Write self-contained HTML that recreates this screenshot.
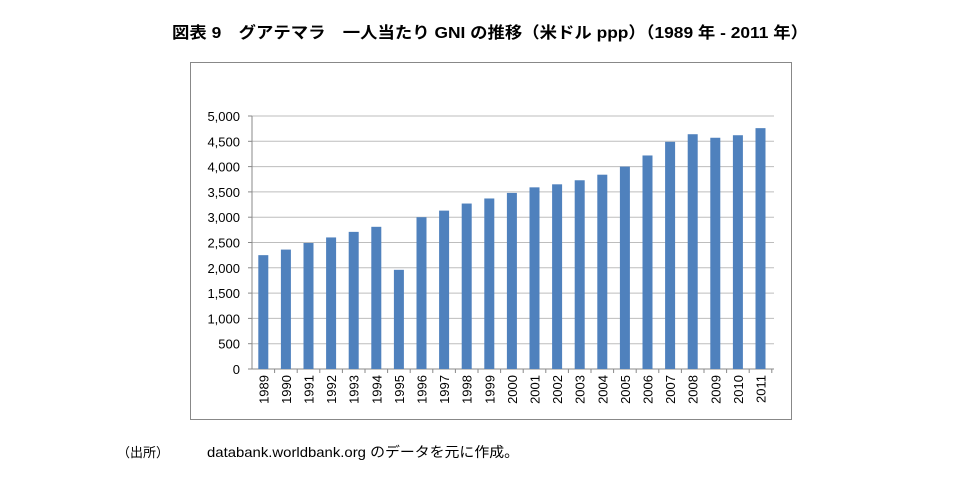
<!DOCTYPE html>
<html><head><meta charset="utf-8"><style>
body{margin:0;background:#fff;width:974px;height:478px;overflow:hidden;font-family:"Liberation Sans","Noto Sans CJK JP",sans-serif;}
</style></head><body>
<svg width="974" height="478" xmlns="http://www.w3.org/2000/svg" font-family="Liberation Sans, Noto Sans CJK JP, sans-serif">
<text x="172" y="38" textLength="636" lengthAdjust="spacingAndGlyphs" font-size="16" font-weight="bold" fill="#000">図表 9　グアテマラ　一人当たり GNI の推移（米ドル ppp）（1989 年 - 2011 年）</text>
<rect x="190.5" y="62.5" width="601" height="357" fill="#fff" stroke="#888" stroke-width="1"/>
<g id="g"></g>
<text x="117" y="457" font-size="13" fill="#000">（出所）</text>
<text x="207" y="457" textLength="312" lengthAdjust="spacingAndGlyphs" font-size="14" fill="#000">databank.worldbank.org のデータを元に作成。</text>
</svg>
<script>
var vals=[2250,2360,2490,2600,2710,2810,1960,3000,3130,3270,3370,3480,3590,3650,3730,3840,4000,4220,4490,4640,4570,4620,4760];
var g=document.getElementById('g'),s='';
var x0=252,y0=369,pp=253/5000,cw=22.6;
for(var i=0;i<=10;i++){var y=y0-i*500*pp;
s+='<line x1="'+x0+'" x2="774" y1="'+y+'" y2="'+y+'" stroke="#bdbdbd"/>';
s+='<line x1="'+(x0-4)+'" x2="'+x0+'" y1="'+y+'" y2="'+y+'" stroke="#888"/>';
s+='<text x="240" y="'+(y+5)+'" text-anchor="end" font-size="13" fill="#000">'+(i*500).toLocaleString('en-US')+'</text>';}
s+='<line x1="'+x0+'" x2="'+x0+'" y1="116" y2="369" stroke="#888"/>';
s+='<line x1="'+x0+'" x2="774" y1="369" y2="369" stroke="#888"/>';
for(var i=0;i<vals.length;i++){var cx=x0+cw*(i+0.5),h=vals[i]*pp;
s+='<rect x="'+(cx-5)+'" y="'+(y0-h)+'" width="10" height="'+h+'" fill="#4f81bd"/>';
s+='<line x1="'+(x0+cw*(i+1))+'" x2="'+(x0+cw*(i+1))+'" y1="369" y2="373" stroke="#888"/>';
s+='<text transform="translate('+(cx+5)+',375) rotate(-90)" text-anchor="end" font-size="13" fill="#000">'+(1989+i)+'</text>';}
g.innerHTML=s;
</script>
</body></html>
